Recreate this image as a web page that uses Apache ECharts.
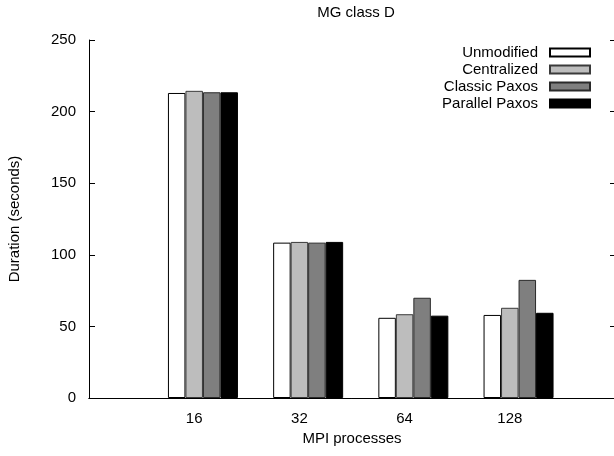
<!DOCTYPE html>
<html>
<head>
<meta charset="utf-8">
<script src="https://cdn.jsdelivr.net/npm/echarts@6/dist/echarts.min.js"></script>
<style>html,body{margin:0;padding:0;background:#fff;}#chart{width:614px;height:456px;}</style>
</head>
<body>
<div id="chart"></div>
<script>
// categories (padded with empty slots at both ends of the x range)
const categories = ['', '16', '32', '64', '128', ''];
const unmodified = ['-', 213, 108.5, 56, 58, '-'];
const centralized = ['-', 214.5, 109, 58.5, 63, '-'];
const classicPaxos = ['-', 213.5, 108.5, 70, 82.5, '-'];
const parallelPaxos = ['-', 213.5, 109, 57.5, 59.5, '-'];
const padding = ['-', '-', '-', '-', '-', '-'];
const seriesNames = ['Unmodified', 'Centralized', 'Classic Paxos', 'Parallel Paxos'];
const yTicks = [0, 50, 100, 150, 200, 250];

const FONT = 'Liberation Sans, Arial, Helvetica, sans-serif';
const chart = echarts.init(document.getElementById('chart'));
const BW = 17.5;
function bar(name, data, color, border) {
  return {
    name: name, type: 'bar', data: data, barWidth: BW, barGap: '0%',
    itemStyle: { color: color, borderColor: border, borderWidth: 1 },
    emphasis: { disabled: true }, animation: false
  };
}
chart.setOption({
  animation: false,
  title: {
    text: 'MG class D', left: 351, top: 0, textAlign: 'center',
    textStyle: { fontFamily: FONT, fontSize: 15, fontWeight: 'normal', color: '#000' }
  },
  legend: {
    data: seriesNames, orient: 'vertical', align: 'right', right: 18, top: 40,
    itemWidth: 40, itemHeight: 8, itemGap: 2, icon: 'rect',
    textStyle: { fontFamily: FONT, fontSize: 15, color: '#000', padding: [0, 7, 0, 0] },
    selectedMode: false
  },
  grid: { left: 89, right: -1, top: 40, bottom: 58, show: false, outerBoundsMode: 'none' },
  xAxis: [{
    type: 'category', data: categories, boundaryGap: false,
    axisLine: { lineStyle: { color: '#000' } },
    axisTick: { show: false },
    axisLabel: { fontFamily: FONT, fontSize: 15, color: '#000', margin: 13, interval: 0 },
    name: 'MPI processes', nameLocation: 'middle', nameGap: 33,
    nameTextStyle: { fontFamily: FONT, fontSize: 15, color: '#000' }
  }, {
    type: 'category', data: categories, boundaryGap: false, position: 'top',
    axisLine: { show: true, lineStyle: { color: '#000' } },
    axisTick: { show: false }, axisLabel: { show: false }, splitLine: { show: false }
  }],
  yAxis: [{
    type: 'value', min: yTicks[0], max: yTicks[yTicks.length - 1], interval: 50,
    axisLine: { show: true, lineStyle: { color: '#000' } },
    axisTick: { show: true, inside: true, length: 6, lineStyle: { color: '#000' } },
    axisLabel: { fontFamily: FONT, fontSize: 15, color: '#000', margin: 13 },
    splitLine: { show: false },
    name: 'Duration (seconds)', nameLocation: 'middle', nameGap: 67,
    nameTextStyle: { fontFamily: FONT, fontSize: 15, color: '#000' }
  }, {
    type: 'value', min: yTicks[0], max: yTicks[yTicks.length - 1], interval: 50, position: 'right',
    axisLine: { show: false },
    axisTick: { show: true, inside: true, length: 5, lineStyle: { color: '#000' } },
    axisLabel: { show: false }, splitLine: { show: false }
  }],
  series: [
    { name: '_pad', type: 'bar', data: padding, barWidth: BW, barGap: '0%', silent: true },
    bar(seriesNames[0], unmodified, '#ffffff', '#000000'),
    bar(seriesNames[1], centralized, '#bdbdbd', '#3a3a3a'),
    bar(seriesNames[2], classicPaxos, '#7f7f7f', '#2a2a2a'),
    bar(seriesNames[3], parallelPaxos, '#000000', '#000000')
  ]
});
</script>
</body>
</html>
